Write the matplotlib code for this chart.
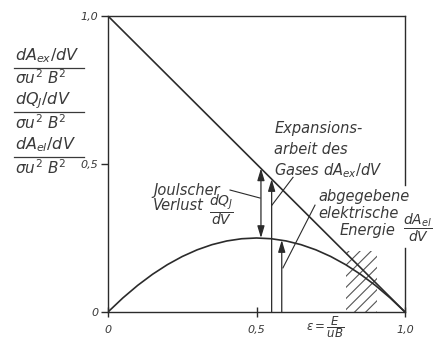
import matplotlib
matplotlib.use('Agg')
import matplotlib.pyplot as plt
from matplotlib.patches import Rectangle
from matplotlib.lines import Line2D

plt.rcParams['font.family'] = ['DejaVu Sans']
plt.rcParams['mathtext.fontset'] = 'dejavusans'
plt.rcParams['hatch.linewidth'] = 0.8

C_LINE = '#2b2b2b'
C_TEXT = '#3a3a3a'
W, H = 434, 340

# Daten
eps_par = [0.0, 0.05, 0.10, 0.15, 0.20, 0.25, 0.30, 0.35, 0.40, 0.45, 0.50,
           0.55, 0.60, 0.65, 0.70, 0.75, 0.80, 0.85, 0.90, 0.95, 1.0]
el_par = [0.0, 0.0475, 0.09, 0.1275, 0.16, 0.1875, 0.21, 0.2275, 0.24, 0.2475, 0.25,
          0.2475, 0.24, 0.2275, 0.21, 0.1875, 0.16, 0.1275, 0.09, 0.0475, 0.0]
eps_ex = [0.0, 1.0]
ex_line = [1.0, 0.0]

# Pfeile: (eps, y unten, y oben)
arr_joule = (0.515, 0.25, 0.485)
arr_ex = (0.551, 0.0, 0.449)
arr_el = (0.585, 0.0, 0.243)

hatch_x = (0.80, 0.905)
hatch_y = (0.0, 0.205)

xticks = [0, 0.5, 1.0]
xtick_labels = ['0', '0,5', '1,0']
yticks = [0, 0.5, 1.0]
ytick_labels = ['0', '0,5', '1,0']

ylab_num = [r'$dA_{ex}/dV$', r'$dQ_J/dV$', r'$dA_{el}/dV$']
ylab_den = r'$\sigma u^2\ B^2$'

fig = plt.figure(figsize=(W / 100, H / 100), dpi=100, facecolor='white')
ax = fig.add_axes([108 / W, 28 / H, 297 / W, 296 / H])

ax.plot(eps_ex, ex_line, color=C_LINE, lw=1.2, solid_capstyle='butt')
ax.plot(eps_par, el_par, color=C_LINE, lw=1.2)

ax.add_patch(Rectangle((hatch_x[0], hatch_y[0]), hatch_x[1] - hatch_x[0],
                       hatch_y[1] - hatch_y[0], facecolor='none',
                       edgecolor='#555555', lw=0, hatch='///'))

aprops = dict(arrowstyle='-|>,head_length=0.6,head_width=0.18', color=C_LINE,
              lw=0.9, shrinkA=0, shrinkB=0, mutation_scale=12)
dprops = dict(aprops, arrowstyle='<|-|>,head_length=0.6,head_width=0.18')
x, y0, y1 = arr_joule
ax.annotate('', xy=(x, y1), xytext=(x, y0), arrowprops=dprops)
x, y0, y1 = arr_ex
ax.annotate('', xy=(x, y1), xytext=(x, y0), arrowprops=aprops)
x, y0, y1 = arr_el
ax.annotate('', xy=(x, y1), xytext=(x, y0), arrowprops=aprops)

# Rahmen
ax.set_xlim(0, 1)
ax.set_ylim(0, 1)
for s in ['left', 'bottom', 'top']:
    ax.spines[s].set_color(C_LINE)
    ax.spines[s].set_linewidth(1.0)
ax.spines['right'].set_visible(False)
ax.plot([1, 1], [0, 0.216], color=C_LINE, lw=1.0, clip_on=False)
ax.plot([1, 1], [0.43, 1], color=C_LINE, lw=1.0, clip_on=False)

ax.set_xticks(xticks)
ax.set_xticklabels(xtick_labels)
ax.set_yticks(yticks)
ax.set_yticklabels(ytick_labels)
ax.tick_params(axis='x', direction='inout', length=7, width=1.0, color=C_LINE,
               pad=6, labelsize=8)
ax.tick_params(axis='y', direction='out', length=5, width=1.0, color=C_LINE,
               pad=2, labelsize=8)
for lab in ax.get_xticklabels() + ax.get_yticklabels():
    lab.set_style('italic')
    lab.set_color(C_TEXT)

# Beschriftungen
tkw = dict(color=C_TEXT, fontsize=10.5, style='italic')
ax.text(0.152, 0.412, 'Joulscher', ha='left', va='center', **tkw)
ax.text(0.152, 0.361, 'Verlust', ha='left', va='center', **tkw)
ax.text(0.34, 0.345, r'$\dfrac{dQ_J}{dV}$', ha='left', va='center',
        color=C_TEXT, fontsize=10)
ax.plot([0.411, 0.512], [0.412, 0.385], color=C_LINE, lw=0.8)

ax.text(0.56, 0.62, 'Expansions-', ha='left', va='center', **tkw)
ax.text(0.56, 0.55, 'arbeit des', ha='left', va='center', **tkw)
ax.text(0.56, 0.478, 'Gases $dA_{ex}/dV$', ha='left', va='center', **tkw)
ax.plot([0.623, 0.552], [0.455, 0.361], color=C_LINE, lw=0.8)

ax.text(0.71, 0.389, 'abgegebene', ha='left', va='center', **tkw)
ax.text(0.707, 0.334, 'elektrische', ha='left', va='center', **tkw)
ax.text(0.781, 0.274, 'Energie', ha='left', va='center', **tkw)
ax.text(0.993, 0.284, r'$\dfrac{dA_{el}}{dV}$', ha='left', va='center',
        color=C_TEXT, fontsize=10, clip_on=False)
ax.plot([0.697, 0.589], [0.361, 0.149], color=C_LINE, lw=0.8)

ax.text(0.73, -0.052, r'$\varepsilon=\dfrac{E}{uB}$', ha='center', va='center',
        color=C_TEXT, fontsize=8.5, clip_on=False)

# y-Achsen-Beschriftung (drei Brueche)
for i, num in enumerate(ylab_num):
    ly = 68 + i * 44.5
    fig.text(15 / W, 1 - (ly - 8) / H, num, ha='left', va='baseline',
             color=C_TEXT, fontsize=11.5)
    fig.add_artist(Line2D([14 / W, 84 / W], [1 - ly / H, 1 - ly / H],
                          color=C_TEXT, lw=0.9))
    fig.text(15 / W, 1 - (ly + 16.5) / H, ylab_den, ha='left', va='baseline',
             color=C_TEXT, fontsize=11)

fig.savefig('out.png', dpi=100, facecolor='white')
